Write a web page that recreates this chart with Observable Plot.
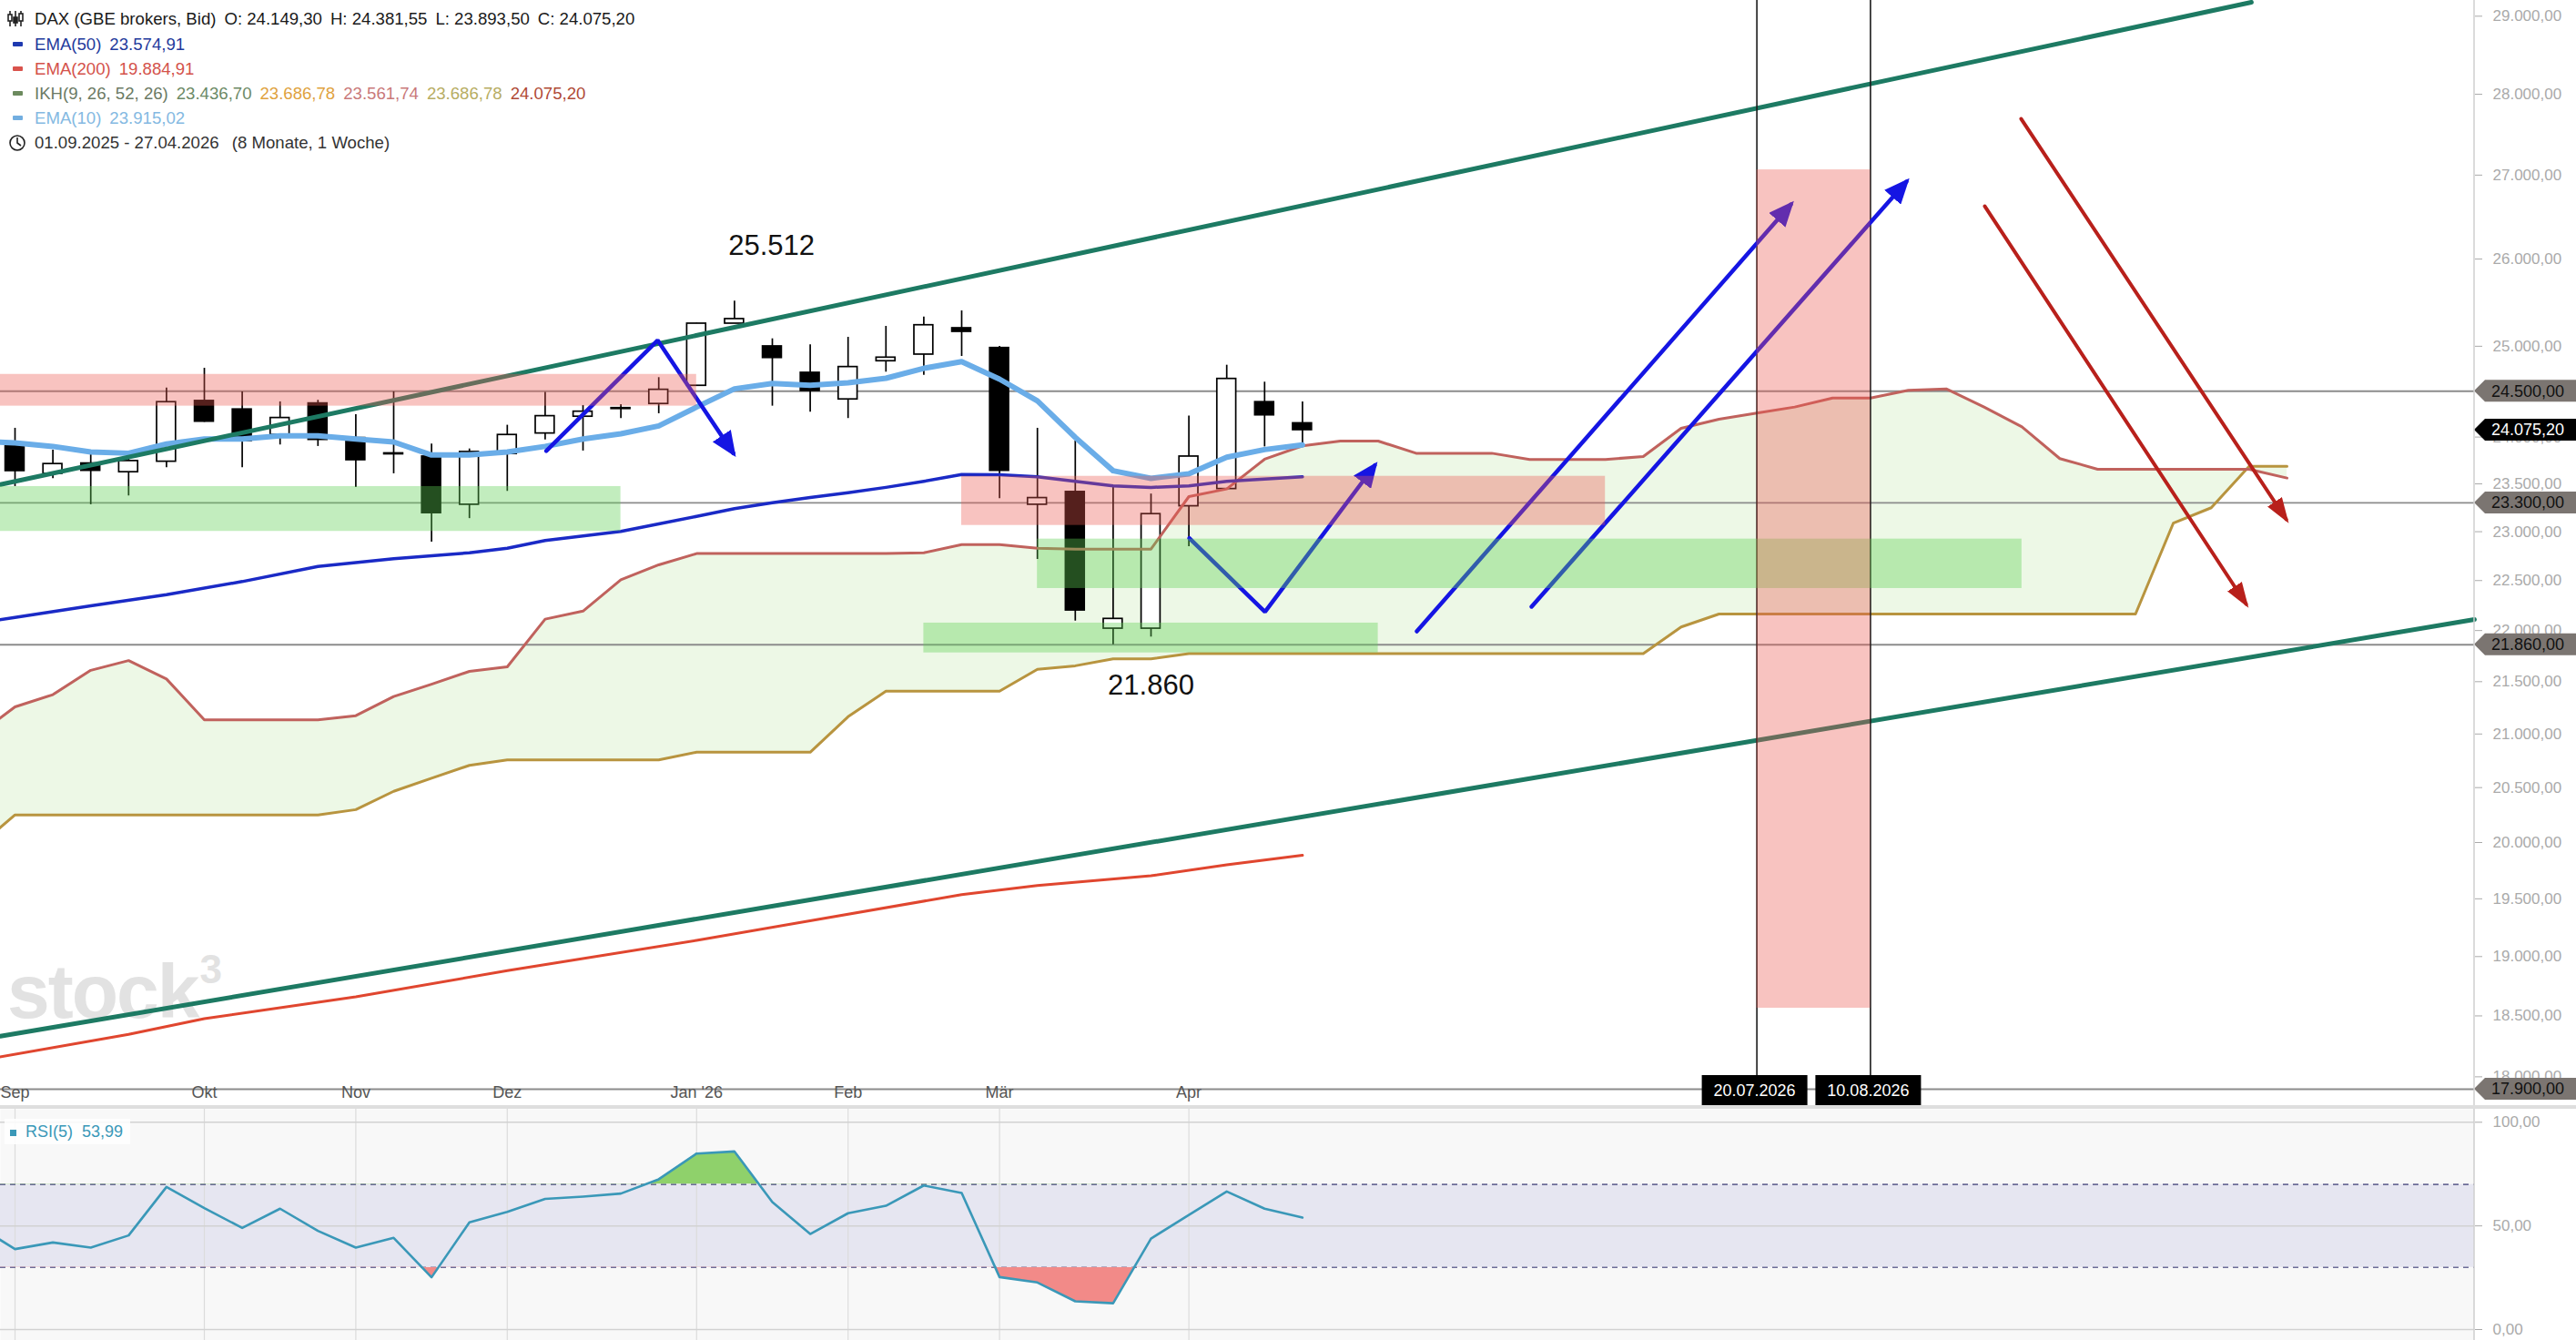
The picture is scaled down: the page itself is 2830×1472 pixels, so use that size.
<!DOCTYPE html>
<html><head><meta charset="utf-8">
<script src="https://cdn.jsdelivr.net/npm/d3@7"></script>
<script src="https://cdn.jsdelivr.net/npm/@observablehq/plot@0.6"></script>
<style>
html,body{margin:0;padding:0;background:#fff;width:2830px;height:1472px;overflow:hidden;font-family:"Liberation Sans",Arial,sans-serif;}
#wrap{position:relative;width:2830px;height:1472px;}
#wrap svg{position:absolute;left:0;}
.row{position:absolute;left:0;height:22px;line-height:22px;font-size:18.6px;white-space:nowrap;}
.row span{margin-right:9px;}
.dash{position:absolute;left:14px;width:11px;height:5px;border-radius:1px;}
#sep{position:absolute;left:0;top:1214px;width:2830px;height:4px;background:#dedede;}
#wm{position:absolute;left:8px;top:1040px;font-size:84px;font-weight:700;color:#e2e2e2;letter-spacing:-2px;}
#wm sup{font-size:44px;vertical-align:38px;margin-left:2px;}
#rsiLeg{position:absolute;left:5px;top:1229px;height:28px;line-height:28px;padding:0 8px 0 6px;background:rgba(255,255,255,0.85);font-size:18px;color:#3a98b8;}
</style></head>
<body><div id="wrap"><div id="wm">stock<sup>3</sup></div></div>
<script>
// ---------- DATA ----------
const startDate = "2025-09-01";               // week 0 (Monday)
// weekly candles, week 0 .. 34
const open  = [23899,23607,23717,23624,23736,24393,24300,24023,24366,23990,23825,23791,23281,23818,24039,24221,24315,24360,24560,25256,24999,24704,24410,24833,24907,25204,24981,23281,23415,22019,22019,23265,23446,24380,24149.30];
const high  = [24095,23860,23818,23762,24536,24754,24493,24383,24400,24243,24493,23925,23872,24128,24486,24343,24353,24650,25260,25512,25084,25016,25101,25225,25331,25401,24999,24095,23957,23472,23393,24227,24788,24600,24381.55];
const low   = [23472,23556,23281,23373,23672,24160,23672,23915,23899,23463,23607,22893,23136,23421,23970,23850,24201,24253,24560,25256,24336,24270,24201,24711,24677,24886,23345,22715,22094,21860,21936,22846,23446,23894,23893.50];
const close = [23636,23711,23639,23743,24380,24167,23957,24207,23970,23752,23815,23193,23840,24023,24227,24276,24305,24516,25256,25308,24869,24503,24768,24873,25238,25163,23639,23351,22200,22116,23183,23791,24636,24236,24075.20];
// EMA(10), week -1 .. 34
const ema10 = [23957,23937,23899,23840,23826,23925,23979,23979,24013,24013,23979,23947,23807,23807,23840,23899,23979,24035,24121,24326,24526,24586,24566,24593,24643,24754,24828,24633,24393,23996,23639,23558,23607,23784,23865,23915];
// EMA(50)
const ema50Weeks  = [-1,0,2,4,6,8,10,12,13,14,15,16,17,18,19,20,21,22,23,24,25,26,27,28,29,30,31,32,33,34];
const ema50Values = [22074,22131,22246,22358,22490,22644,22722,22783,22830,22909,22955,23003,23081,23159,23239,23302,23356,23407,23463,23527,23599,23596,23574,23527,23479,23463,23479,23527,23551,23575];
// EMA(200)
const ema200Weeks  = [-1,3,5,9,13,18,25,27,30,32,34];
const ema200Values = [18129,18347,18477,18660,18880,19139,19537,19617,19703,19800,19885];
// Ichimoku spans, week -1 .. 60
const spanA = [20986,21258,21375,21610,21705,21526,21135,21135,21135,21135,21174,21357,21475,21600,21644,22113,22193,22508,22660,22775,22775,22775,22775,22775,22775,22783,22867,22867,22830,22821,22821,22821,23366,23446,23762,23905,23957,23957,23826,23826,23826,23759,23759,23759,23791,24095,24194,24260,24326,24425,24425,24510,24526,24326,24111,23769,23655,23655,23655,23655,23655,23562];
const spanB = [19959,20250,20250,20250,20250,20250,20250,20250,20250,20250,20298,20466,20586,20706,20757,20757,20757,20757,20757,20829,20829,20829,20829,21164,21408,21408,21408,21408,21620,21654,21722,21722,21773,21773,21773,21773,21773,21773,21773,21773,21773,21773,21773,21773,21773,22035,22164,22164,22164,22164,22164,22164,22164,22164,22164,22164,22164,22164,23090,23249,23687,23687];
// RSI(5), week -1 .. 34
const rsi = [50.2,38.8,42.0,39.5,45.4,68.8,58.6,49.0,58.3,47.6,39.5,44.2,25.2,51.7,56.8,63.0,64.1,65.6,72.5,84.9,85.9,61.5,46.1,56.1,59.7,69.5,65.9,25.3,22.7,13.6,12.7,43.9,55.3,66.6,58.3,53.99];
// month ticks
const monthWeeks  = [0,5,9,13,18,22,26,31];
const monthLabels = ["Sep","Okt","Nov","Dez","Jan '26","Feb","Mär","Apr"];
const yTicks = [18000,18500,19000,19500,20000,20500,21000,21500,22000,22500,23000,23500,24000,24500,25000,26000,27000,28000,29000];
// horizontal levels and tags
const levels = [24500,23300,21860,17900];
const lastPrice = 24075.20;
// vertical markers
const markerWeeks = [46,49];
const markerLabels = ["20.07.2026","10.08.2026"];
// trend channel  [week, price]
const trendUpper = [[-0.385,23493],[59.06,29182]];
const trendLower = [[-0.385,18332],[64.95,22110]];
// zones
const zoneKind = ["red","red","red","green","green","green"];
const zoneW1 = [-2,25,46,-2,27,24];
const zoneW2 = [18,42,49,16,53,36];
const zoneP1 = [24336,23065,18564,23003,22420,21780];
const zoneP2 = [24686,23580,27064,23472,22924,22074];
// drawn arrows [week, price]
const blueArrows = [
  [[14.03,23850],[16.97,25067],[18.97,23826]],
  [[31.01,22933],[33.01,22185],[35.91,23696]],
  [[37.02,21992],[46.90,26647]],
  [[40.05,22237],[49.95,26921]]
];
const redArrows = [
  [[52.02,26625],[58.92,22264]],
  [[52.98,27692],[59.98,23128]]
];
const notes = [{w:19.98,p:26150,t:"25.512"},{w:30,p:21459,t:"21.860"}];
const legendVals = {ema50:"23.574,91", ema200:"19.884,91", ikh:["23.436,70","23.686,78","23.561,74","23.686,78","24.075,20"], ema10:"23.915,02", rsi:"53,99"};

// ---------- HELPERS ----------
const DAY = 864e5;
const T0 = Date.parse(startDate + "T00:00:00Z");
const wk = w => new Date(T0 + w * 7 * DAY);
const fmt = v => { const [i,f] = v.toFixed(2).split("."); return i.replace(/\B(?=(\d{3})+(?!\d))/g, ".") + "," + f; };
const xDomain = [wk(-0.3846), wk(64.952)];
const W = 2830, AX = 2718;

const candles = open.map((o,i)=>({date: wk(i), o, h: high[i], l: low[i], c: close[i]}));
const up = candles.filter(d=>d.c>=d.o), dn = candles.filter(d=>d.c<d.o);
const cloud = spanA.map((a,i)=>({date: wk(i-1), a, b: spanB[i]}));
const e10 = ema10.map((v,i)=>({date: wk(i-1), v}));
const e50 = ema50Weeks.map((w,i)=>({date: wk(w), v: ema50Values[i]}));
const e200 = ema200Weeks.map((w,i)=>({date: wk(w), v: ema200Values[i]}));
const trends = [...trendUpper.map(([w,p])=>({id:"u",date:wk(w),p})), ...trendLower.map(([w,p])=>({id:"l",date:wk(w),p}))];
const zones = zoneKind.map((k,i)=>({k, x1: wk(zoneW1[i]), x2: wk(zoneW2[i]), y1: zoneP1[i], y2: zoneP2[i]}));
const bluePts = blueArrows.flatMap((a,j)=>a.map(([w,p])=>({id:j,date:wk(w),p})));
const redPts = redArrows.flatMap((a,j)=>a.map(([w,p])=>({id:j,date:wk(w),p})));
const months = monthWeeks.map((w,i)=>({date: wk(w), label: monthLabels[i]}));
const rsiData = rsi.map((v,i)=>({date: wk(i-1), v}));

const stylePlot = {fontFamily:'"Liberation Sans", Arial, sans-serif', fontSize:"17px", background:"transparent", overflow:"visible"};

// ---------- MAIN PANEL ----------
const main = Plot.plot({
  width: W, height: 1218, marginLeft: 0, marginRight: W-AX, marginTop: 0, marginBottom: 22,
  style: stylePlot,
  x: {type:"utc", domain: xDomain, range:[0,AX], axis: null},
  y: {type:"log", domain:[17900,29206], range:[1196,0], axis: null},
  marks: [
    Plot.areaY(cloud, {x:"date", y1:"b", y2:"a", fill:"#edf8e6"}),
    Plot.ruleY(levels, {stroke:"#8c8c8c", strokeWidth:1.8}),
    Plot.ruleX(candles, {x:"date", y1:"l", y2:"h", stroke:"#000", strokeWidth:1.7}),
    Plot.rect(up, {x1:d=>new Date(+d.date-1.75*DAY), x2:d=>new Date(+d.date+1.75*DAY), y1:"o", y2:"c", fill:"#fff", stroke:"#000", strokeWidth:1.7}),
    Plot.rect(dn, {x1:d=>new Date(+d.date-1.75*DAY), x2:d=>new Date(+d.date+1.75*DAY), y1:"o", y2:"c", fill:"#000", stroke:"#000", strokeWidth:1.7}),
    Plot.line(cloud, {x:"date", y:"b", stroke:"#b8943f", strokeWidth:3}),
    Plot.line(cloud, {x:"date", y:"a", stroke:"#c0625d", strokeWidth:3}),
    Plot.line(e200, {x:"date", y:"v", stroke:"#e0462f", strokeWidth:3}),
    Plot.line(e50, {x:"date", y:"v", stroke:"#1a2ac6", strokeWidth:3.5}),
    Plot.line(e10, {x:"date", y:"v", stroke:"#6aade8", strokeWidth:6}),
    Plot.line(trends, {x:"date", y:"p", z:"id", stroke:"#1d7a63", strokeWidth:5}),
    Plot.ruleX(markerWeeks.map(wk), {stroke:"#1a1a1a", strokeWidth:1.6}),
    Plot.line(bluePts, {x:"date", y:"p", z:"id", stroke:"#1515e3", strokeWidth:4.5, strokeLinejoin:"miter", ariaDescription:"blue-arrows"}),
    Plot.line(redPts, {x:"date", y:"p", z:"id", stroke:"#b8201b", strokeWidth:4, ariaDescription:"red-arrows"}),
    Plot.rect(zones.filter(d=>d.k==="green"), {x1:"x1", x2:"x2", y1:"y1", y2:"y2", fill:"#5fcf55", fillOpacity:0.38}),
    Plot.rect(zones.filter(d=>d.k==="red"), {x1:"x1", x2:"x2", y1:"y1", y2:"y2", fill:"#ec5a50", fillOpacity:0.36}),
    Plot.text(notes, {x:d=>wk(d.w), y:"p", text:"t", fontSize:31, fill:"#111"}),
    Plot.text(months, {x:"date", text:"label", frameAnchor:"bottom", dy:4, lineAnchor:"middle", fill:"#555", fontSize:18}),
    Plot.axisY({anchor:"right", ticks:yTicks, tickFormat:fmt, tickSize:8, tickPadding:12, color:"#aaa", fontSize:17, label:null})
  ]
});
main.style.top = "0px";
document.getElementById("wrap").appendChild(main);

{
  const svg = d3.select(main);
  const ys = main.scale("y"), xs = main.scale("x");
  const defs = svg.append("defs");
  const mk = (id, color, L, Wd) => defs.append("marker").attr("id", id).attr("viewBox", `0 0 ${L} ${Wd}`)
      .attr("refX", L-5).attr("refY", Wd/2).attr("markerWidth", L).attr("markerHeight", Wd)
      .attr("markerUnits","userSpaceOnUse").attr("orient","auto")
      .append("path").attr("d", `M0,0L${L},${Wd/2}L0,${Wd}Z`).attr("fill", color);
  mk("ahBlue", "#1515e3", 28, 24);
  mk("ahRed", "#b8201b", 28, 19);
  svg.selectAll('g[aria-description="blue-arrows"] path').attr("marker-end","url(#ahBlue)");
  svg.selectAll('g[aria-description="red-arrows"] path').attr("marker-end","url(#ahRed)");
  const tag = (price, bg, fg) => {
    const y = ys.apply(price);
    svg.append("path").attr("d", `M${AX},${y}L${AX+12},${y-12}H${W}V${y+12}H${AX+12}Z`).attr("fill", bg);
    svg.append("text").attr("x", AX+19).attr("y", y).attr("dy","0.36em").attr("fill", fg)
      .attr("text-anchor","start").attr("font-size", 18).text(fmt(price));
  };
  levels.forEach(p => tag(p, "#7b7571", "#111"));
  tag(lastPrice, "#000", "#fff");
  markerWeeks.forEach((w,i) => {
    const x = xs.apply(wk(w)) - 2;
    svg.append("rect").attr("x", x-58).attr("y", 1181).attr("width", 116).attr("height", 33).attr("fill", "#000");
    svg.append("text").attr("x", x).attr("y", 1198).attr("dy","0.36em").attr("text-anchor","middle")
      .attr("fill","#fff").attr("font-size", 18).text(markerLabels[i]);
  });
  svg.append("line").attr("x1",AX).attr("x2",AX).attr("y1",0).attr("y2",1218).attr("stroke","#cfcfcf").attr("stroke-width",1.5);
}

// ---------- RSI PANEL ----------
const rsiPlot = Plot.plot({
  width: W, height: 254, marginLeft: 0, marginRight: W-AX, marginTop: 0, marginBottom: 0,
  style: stylePlot,
  x: {type:"utc", domain: xDomain, range:[0,AX], axis: null},
  y: {domain:[0,100], range:[242,14.3], axis: null},
  marks: [
    Plot.frame({fill:"#f8f8f8", stroke:null}),
    Plot.rect([0], {y1:30, y2:70, fill:"#e6e6f1"}),
    Plot.ruleX(months, {x:"date", stroke:"#dcdcdc", strokeWidth:1.2}),
    Plot.ruleY([0,50,100], {stroke:"#d2d2d2", strokeWidth:1.5}),
    Plot.ruleY([30,70], {stroke:"#6d6d98", strokeWidth:1.6, strokeDasharray:"6,5"}),
    Plot.areaY(rsiData, {x:"date", y1:70, y2:"v", fill:"#8fd16b", ariaDescription:"ob"}),
    Plot.areaY(rsiData, {x:"date", y1:30, y2:"v", fill:"#f28a88", ariaDescription:"os"}),
    Plot.line(rsiData, {x:"date", y:"v", stroke:"#3a98b8", strokeWidth:2.6}),
    Plot.axisY({anchor:"right", ticks:[0,50,100], tickFormat:fmt, tickSize:8, tickPadding:12, color:"#aaa", fontSize:17, label:null})
  ]
});
rsiPlot.style.top = "1218px";
document.getElementById("wrap").appendChild(rsiPlot);
{
  const svg = d3.select(rsiPlot);
  const ys = rsiPlot.scale("y");
  const y70 = ys.apply(70), y30 = ys.apply(30);
  const defs = svg.append("defs");
  defs.append("clipPath").attr("id","cOB").append("rect").attr("x",0).attr("y",0).attr("width",AX).attr("height",y70);
  defs.append("clipPath").attr("id","cOS").append("rect").attr("x",0).attr("y",y30).attr("width",AX).attr("height",254-y30);
  svg.selectAll('g[aria-description="ob"]').attr("clip-path","url(#cOB)");
  svg.selectAll('g[aria-description="os"]').attr("clip-path","url(#cOS)");
  svg.append("line").attr("x1",AX).attr("x2",AX).attr("y1",0).attr("y2",254).attr("stroke","#cfcfcf").attr("stroke-width",1.5);
}

// ---------- HTML LEGENDS ----------
const wrap = document.getElementById("wrap");
const sep = document.createElement("div"); sep.id = "sep"; wrap.appendChild(sep);
const row = (top, html) => { const d = document.createElement("div"); d.className = "row"; d.style.top = top + "px"; d.style.left = "38px"; d.innerHTML = html; wrap.appendChild(d); return d; };
const dash = (top, color) => { const d = document.createElement("div"); d.className = "dash"; d.style.top = top + "px"; d.style.background = color; wrap.appendChild(d); };
const last = candles[candles.length-1];
row(10, `<span style="color:#1a1a1a">DAX (GBE brokers, Bid)</span><span style="color:#1a1a1a">O: ${fmt(last.o)}</span><span style="color:#1a1a1a">H: ${fmt(last.h)}</span><span style="color:#1a1a1a">L: ${fmt(last.l)}</span><span style="color:#1a1a1a">C: ${fmt(last.c)}</span>`);
row(38, `<span style="color:#1f3a9c">EMA(50)</span><span style="color:#1f3a9c">${legendVals.ema50}</span>`); dash(46, "#1f3ab0");
row(65, `<span style="color:#d4524b">EMA(200)</span><span style="color:#d4524b">${legendVals.ema200}</span>`); dash(73, "#d9534c");
const ikhCols = ["#6c8a66","#e0a23e","#c9797a","#b7ad63","#b04a36"];
row(92, `<span style="color:#6b7a64">IKH(9, 26, 52, 26)</span>` + legendVals.ikh.map((v,i)=>`<span style="color:${ikhCols[i]}">${v}</span>`).join("")); dash(100, "#6c8a5e");
row(119, `<span style="color:#84b9e2">EMA(10)</span><span style="color:#84b9e2">${legendVals.ema10}</span>`); dash(127, "#72aee0");
row(146, `<span style="color:#333">01.09.2025 - 27.04.2026</span><span style="color:#333">&nbsp;(8 Monate, 1 Woche)</span>`);
// icons
const icons = document.createElementNS("http://www.w3.org/2000/svg","svg");
icons.setAttribute("width","40"); icons.setAttribute("height","170");
icons.style.position = "absolute"; icons.style.left = "0px"; icons.style.top = "0px";
icons.innerHTML = `<g stroke="#222" stroke-width="1.6" fill="none">
  <line x1="11" y1="12" x2="11" y2="29"/><rect x="9" y="16" width="4" height="7" fill="#fff"/>
  <line x1="17" y1="12" x2="17" y2="29"/><rect x="15" y="19" width="4" height="6" fill="#222"/>
  <line x1="23" y1="12" x2="23" y2="29"/><rect x="21" y="15" width="4" height="8" fill="#fff"/>
  <circle cx="19" cy="157" r="8"/><polyline points="19,151 19,157 23,160"/></g>`;
wrap.appendChild(icons);
const rl = document.createElement("div"); rl.id = "rsiLeg";
rl.innerHTML = `<span style="display:inline-block;width:7px;height:7px;background:#3a98b8;margin-right:10px;vertical-align:middle"></span>RSI(5)&nbsp; ${legendVals.rsi}`;
wrap.appendChild(rl);
</script>
</body></html>
